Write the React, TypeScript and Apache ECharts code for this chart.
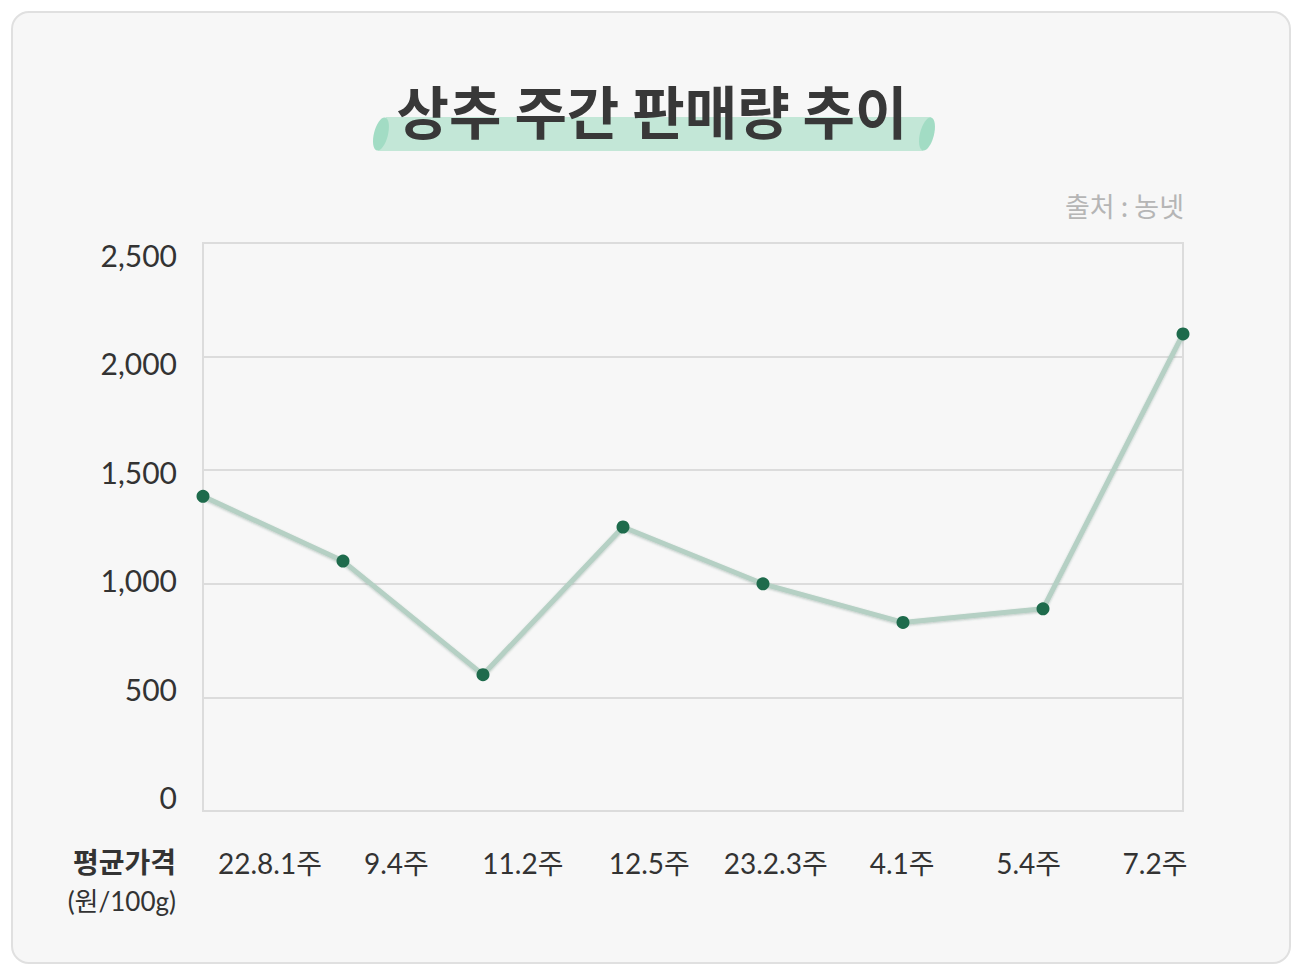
import * as echarts from "echarts"
import { useEffect, useRef } from "react"

// 상추 주간 판매량 추이 — weekly lettuce average price (원/100g)
const weeks = ["22.8.1주", "9.4주", "11.2주", "12.5주", "23.2.3주", "4.1주", "5.4주", "7.2주"]
const prices = [1385, 1100, 600, 1250, 1000, 830, 890, 2100]
const yTicks = [0, 500, 1000, 1500, 2000, 2500]

const title = "상추 주간 판매량 추이"
const source = "출처 : 농넷"
const unitName = "평균가격"
const unit = "(원/100g)"

const FONT = "Lato, 'Noto Sans CJK KR', sans-serif"
const KFONT = "'Noto Sans CJK KR', Lato, sans-serif"

export default function App() {
  const ref = useRef<HTMLDivElement>(null)

  useEffect(() => {
    if (!ref.current) return
    const chart = echarts.init(ref.current, null, { renderer: "svg" })
    const yMin = yTicks[0]
    const yMax = yTicks[yTicks.length - 1]
    const step = yTicks[1] - yTicks[0]

    chart.setOption({
      animation: false,
      backgroundColor: "transparent",
      textStyle: { fontFamily: FONT },
      grid: [
        // plot box
        { left: 203, right: 117, top: 243, bottom: 162, show: true, borderColor: "#dcdcdc", borderWidth: 2, backgroundColor: "transparent" },
        // label-only grid (labels sit a little inside the plot box in the original)
        { left: 270, right: 145, top: 255, bottom: 176 },
      ],
      xAxis: [
        {
          gridIndex: 0,
          type: "category",
          data: weeks,
          boundaryGap: false,
          axisLine: { show: false },
          axisTick: { show: false },
          axisLabel: { show: false },
          splitLine: { show: false },
        },
        {
          gridIndex: 1,
          type: "category",
          data: weeks,
          boundaryGap: false,
          axisLine: { show: false },
          axisTick: { show: false },
          splitLine: { show: false },
          axisLabel: { interval: 0, color: "#333", fontSize: 28, fontFamily: FONT, margin: 52 },
        },
      ],
      yAxis: [
        {
          gridIndex: 0,
          type: "value",
          min: yMin,
          max: yMax,
          interval: step,
          axisLine: { show: true, lineStyle: { color: "#dcdcdc", width: 2 } },
          axisTick: { show: false },
          axisLabel: { show: false },
          splitLine: { lineStyle: { color: "#dcdcdc", width: 2 } },
        },
        {
          gridIndex: 1,
          type: "value",
          min: yMin,
          max: yMax,
          interval: step,
          axisLine: { show: false },
          axisTick: { show: false },
          splitLine: { show: false },
          axisLabel: {
            color: "#333",
            fontSize: 30,
            fontFamily: FONT,
            margin: 93,
            formatter: (v: number) => v.toLocaleString("en-US"),
          },
        },
      ],
      series: [
        {
          type: "line",
          xAxisIndex: 0,
          yAxisIndex: 0,
          data: prices,
          symbol: "circle",
          symbolSize: 13,
          itemStyle: { color: "#1e6b4c" },
          lineStyle: {
            color: "#b5d0c4",
            width: 5,
            shadowColor: "rgba(40,90,70,0.3)",
            shadowBlur: 2,
            shadowOffsetY: 1,
          },
          z: 5,
        },
      ],
      graphic: [
        {
          type: "polygon",
          shape: { points: [[386, 117], [931, 117], [923, 151], [378, 151]] },
          style: { fill: "#c3e7d7" },
        },
        {
          type: "ellipse",
          x: 381,
          y: 134,
          rotation: -0.25,
          shape: { cx: 0, cy: 0, rx: 7, ry: 17 },
          style: { fill: "#a2dcc4" },
        },
        {
          type: "ellipse",
          x: 927,
          y: 134,
          rotation: -0.25,
          shape: { cx: 0, cy: 0, rx: 7, ry: 17 },
          style: { fill: "#a2dcc4" },
        },
        {
          type: "text",
          x: 652,
          y: 109,
          style: {
            text: title,
            fill: "#383838",
            font: `bold 57px ${KFONT}`,
            textAlign: "center",
            textVerticalAlign: "middle",
            align: "center",
            verticalAlign: "middle",
          },
        },
        {
          type: "text",
          x: 1184,
          y: 205,
          style: {
            text: source,
            fill: "#b5b5b5",
            font: `27px ${KFONT}`,
            textAlign: "right",
            textVerticalAlign: "middle",
            align: "right",
            verticalAlign: "middle",
          },
        },
        {
          type: "text",
          x: 176,
          y: 861,
          style: {
            text: unitName,
            fill: "#333",
            font: `bold 28px ${KFONT}`,
            textAlign: "right",
            textVerticalAlign: "middle",
            align: "right",
            verticalAlign: "middle",
          },
        },
        {
          type: "text",
          x: 176,
          y: 901,
          style: {
            text: unit,
            fill: "#333",
            font: `26px ${FONT}`,
            textAlign: "right",
            textVerticalAlign: "middle",
            align: "right",
            verticalAlign: "middle",
          },
        },
      ],
    })

    return () => chart.dispose()
  }, [])

  return (
    <div style={{ position: "absolute", left: 0, top: 0, width: 1300, height: 973, background: "#ffffff" }}>
      <div
        style={{
          position: "absolute",
          left: 11,
          top: 11,
          width: 1276,
          height: 949,
          border: "2px solid #e0e0e0",
          borderRadius: 18,
          background: "#f7f7f7",
        }}
      />
      <div ref={ref} style={{ position: "absolute", left: 0, top: 0, width: 1300, height: 973 }} />
    </div>
  )
}
